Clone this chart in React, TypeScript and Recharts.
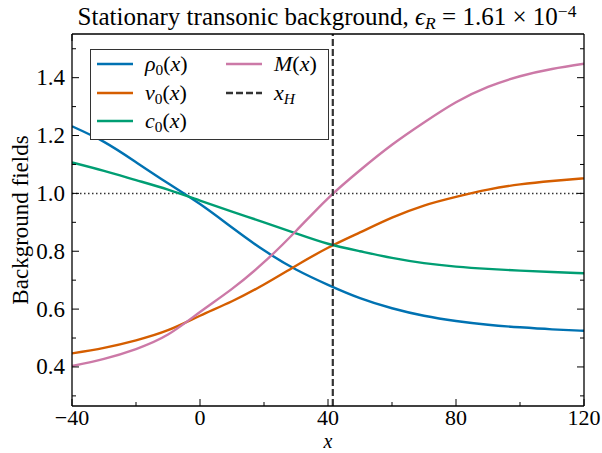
import { LineChart, Line, XAxis, YAxis, ReferenceLine } from "recharts";

const XS = [-40, -30, -20, -10, 0, 10, 20, 30, 40, 50, 60, 70, 80, 90, 100, 110, 120];
const RHO = [1.232, 1.178, 1.108, 1.035, 0.963, 0.882, 0.803, 0.737, 0.684, 0.638, 0.603, 0.577, 0.559, 0.546, 0.537, 0.53, 0.525];
const V0 = [0.447, 0.466, 0.492, 0.527, 0.577, 0.627, 0.685, 0.75, 0.812, 0.865, 0.916, 0.958, 0.988, 1.013, 1.031, 1.043, 1.052];
const C0 = [1.107, 1.078, 1.046, 1.013, 0.975, 0.937, 0.9, 0.862, 0.826, 0.8, 0.777, 0.759, 0.747, 0.739, 0.733, 0.728, 0.724];
const MACH = [0.403, 0.428, 0.462, 0.512, 0.59, 0.67, 0.762, 0.87, 0.983, 1.08, 1.168, 1.245, 1.315, 1.368, 1.405, 1.43, 1.448];
const X_H = 41.5;

const X_TICKS = [-40, -20, 0, 20, 40, 60, 80, 100, 120];
const X_MAJOR = [-40, 0, 40, 80, 120];
const Y_TICKS = [0.3, 0.4, 0.5, 0.6, 0.7, 0.8, 0.9, 1.0, 1.1, 1.2, 1.3, 1.4, 1.5];
const Y_MAJOR = [0.4, 0.6, 0.8, 1.0, 1.2, 1.4];
const X_DOMAIN = [-40, 120];
const Y_DOMAIN = [0.265, 1.551];

const BLUE = "#0072B2";
const ORANGE = "#D55E00";
const GREEN = "#009E73";
const PINK = "#CC79A7";
const FONT = '"Liberation Serif", "DejaVu Serif", serif';

const data = XS.map((x, i) => ({ x, rho: RHO[i], v: V0[i], c: C0[i], m: MACH[i] }));

const fmtX = (v: number) => (v < 0 ? "\u2212" + Math.abs(v) : String(v));

const BottomTick = (props: any) => {
  const { x, y, payload } = props;
  const major = X_MAJOR.includes(payload.value);
  return (
    <g>
      <line x1={x} x2={x} y1={y} y2={y - (major ? 7 : 4)} stroke="#000" strokeWidth={1} />
      {major && (
        <text x={x} y={y + 19} textAnchor="middle" fontFamily={FONT} fontSize={22} fill="#000">
          {fmtX(payload.value)}
        </text>
      )}
    </g>
  );
};

const TopTick = (props: any) => {
  const { x, y, payload } = props;
  const major = X_MAJOR.includes(payload.value);
  return <line x1={x} x2={x} y1={y} y2={y + (major ? 7 : 4)} stroke="#000" strokeWidth={1} />;
};

const LeftTick = (props: any) => {
  const { x, y, payload } = props;
  const major = Y_MAJOR.includes(payload.value);
  return (
    <g>
      <line x1={x} x2={x + (major ? 7 : 4)} y1={y} y2={y} stroke="#000" strokeWidth={1} />
      {major && (
        <text x={x - 7} y={y + 7.5} textAnchor="end" fontFamily={FONT} fontSize={23} fill="#000">
          {payload.value.toFixed(1)}
        </text>
      )}
    </g>
  );
};

const RightTick = (props: any) => {
  const { x, y, payload } = props;
  const major = Y_MAJOR.includes(payload.value);
  return <line x1={x} x2={x - (major ? 7 : 4)} y1={y} y2={y} stroke="#000" strokeWidth={1} />;
};

const sub = { fontSize: "0.7em", verticalAlign: "-0.25em", lineHeight: 0 } as const;
const sup = { fontSize: "0.7em", verticalAlign: "0.45em", lineHeight: 0 } as const;

const legendItems = [
  { color: BLUE, dash: "", label: <><i>ρ</i><span style={sub}>0</span>(<i>x</i>)</> },
  { color: ORANGE, dash: "", label: <><i>v</i><span style={sub}>0</span>(<i>x</i>)</> },
  { color: GREEN, dash: "", label: <><i>c</i><span style={sub}>0</span>(<i>x</i>)</> },
  { color: PINK, dash: "", label: <><i>M</i>(<i>x</i>)</> },
  { color: "#333", dash: "7 3", label: <><i>x</i><span style={sub}><i>H</i></span></> },
];

export default function App() {
  return (
    <div
      style={{
        position: "absolute",
        left: 0,
        top: 0,
        width: 602,
        height: 453,
        background: "#fff",
        overflow: "hidden",
        fontFamily: FONT,
      }}
    >
      <div
        style={{
          position: "absolute",
          left: 27,
          width: 600,
          top: 3,
          textAlign: "center",
          fontSize: 25,
          lineHeight: "28px",
          whiteSpace: "nowrap",
        }}
      >
        Stationary transonic background, <i>ϵ</i>
        <span style={sub}><i>R</i></span> = 1.61 × 10<span style={sup}>−4</span>
      </div>

      <LineChart width={602} height={453} data={data} margin={{ top: 33, right: 17, left: 12, bottom: 0 }}>
        <XAxis
          dataKey="x"
          type="number"
          domain={X_DOMAIN}
          ticks={X_TICKS}
          interval={0}
          allowDataOverflow
          height={47}
          tickSize={0}
          tickMargin={0}
          tick={<BottomTick />}
          axisLine={{ stroke: "#000", strokeWidth: 1.3 }}
          tickLine={false}
          label={{ value: "x", position: "insideBottom", offset: 5, fontFamily: FONT, fontSize: 20, fontStyle: "italic", fill: "#000" }}
        />
        <XAxis
          xAxisId="top"
          orientation="top"
          type="number"
          domain={X_DOMAIN}
          ticks={X_TICKS}
          interval={0}
          allowDataOverflow
          height={1}
          tickSize={0}
          tickMargin={0}
          tick={<TopTick />}
          axisLine={{ stroke: "#000", strokeWidth: 1.3 }}
          tickLine={false}
        />
        <YAxis
          type="number"
          domain={Y_DOMAIN}
          ticks={Y_TICKS}
          interval={0}
          allowDataOverflow
          width={60}
          tickSize={0}
          tickMargin={0}
          tick={<LeftTick />}
          axisLine={{ stroke: "#000", strokeWidth: 1.3 }}
          tickLine={false}
          label={{
            value: "Background fields",
            angle: -90,
            position: "insideLeft",
            offset: 8,
            style: { textAnchor: "middle" },
            fontFamily: FONT,
            fontSize: 23,
            fill: "#000",
          }}
        />
        <YAxis
          yAxisId="right"
          orientation="right"
          type="number"
          domain={Y_DOMAIN}
          ticks={Y_TICKS}
          interval={0}
          allowDataOverflow
          width={1}
          tickSize={0}
          tickMargin={0}
          tick={<RightTick />}
          axisLine={{ stroke: "#000", strokeWidth: 1.3 }}
          tickLine={false}
        />

        <ReferenceLine y={1} stroke="#333" strokeWidth={1.5} strokeDasharray="1.5 2.5" />

        <Line type="natural" dataKey="rho" stroke={BLUE} strokeWidth={2.4} dot={false} isAnimationActive={false} />
        <Line type="natural" dataKey="v" stroke={ORANGE} strokeWidth={2.4} dot={false} isAnimationActive={false} />
        <Line type="natural" dataKey="c" stroke={GREEN} strokeWidth={2.4} dot={false} isAnimationActive={false} />
        <Line type="natural" dataKey="m" stroke={PINK} strokeWidth={2.4} dot={false} isAnimationActive={false} />

        <ReferenceLine x={X_H} stroke="#333" strokeWidth={2.2} strokeDasharray="7 3" />
      </LineChart>

      <div
        style={{
          position: "absolute",
          left: 90,
          top: 49,
          width: 239,
          height: 91,
          boxSizing: "border-box",
          border: "1px solid #333",
          background: "#fff",
          paddingLeft: 6,
          display: "grid",
          gridTemplateColumns: "129px auto",
          gridTemplateRows: "repeat(3, 28.5px)",
          gridAutoFlow: "column",
          fontSize: 22,
        }}
      >
        {legendItems.map((it, i) => (
          <div key={i} style={{ display: "flex", alignItems: "center", whiteSpace: "nowrap" }}>
            <svg width={36} height={6} style={{ marginRight: 12 }}>
              <line x1={0} x2={36} y1={3} y2={3} stroke={it.color} strokeWidth={2.4} strokeDasharray={it.dash || undefined} />
            </svg>
            <span>{it.label}</span>
          </div>
        ))}
      </div>
    </div>
  );
}
